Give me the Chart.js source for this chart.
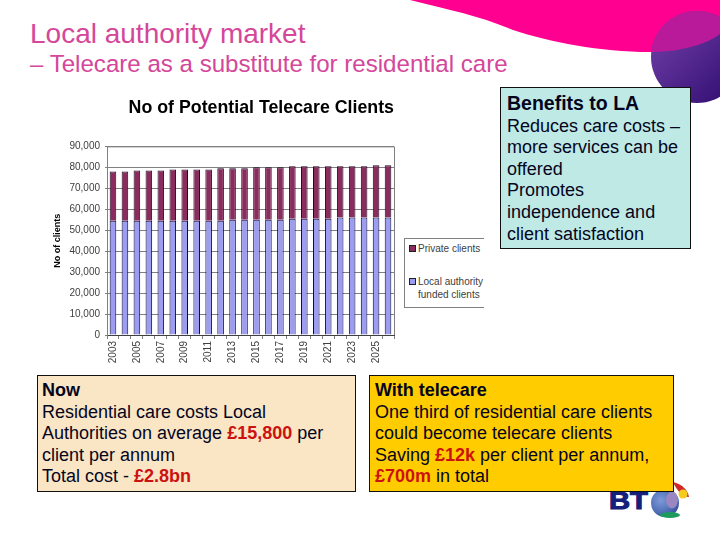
<!DOCTYPE html>
<html>
<head>
<meta charset="utf-8">
<script src="https://cdn.jsdelivr.net/npm/chart.js@4"></script>
<style>
    html, body { margin: 0; padding: 0; background: #fff; }
    body { position: relative; width: 720px; height: 540px; overflow: hidden; font-family: "Liberation Sans", Arial, sans-serif; }
    #decor { position: absolute; left: 0; top: 0; }
    h1, h2 { position: absolute; left: 30px; margin: 0; font-weight: normal; color: #d4479a; white-space: nowrap; }
    h1 { top: 18px; font-size: 28px; }
    h2 { top: 50px; font-size: 24.1px; }
    #chartBox { position: absolute; left: 48px; top: 95px; width: 436px; height: 275px; }
    #legend { position: absolute; left: 404px; top: 238px; width: 79px; height: 68px; border: 1px solid #808080; border-right: none; background: #fff; font-size: 10px; color: #404040; }
    #legend div { position: absolute; left: 13px; line-height: 13px; }
    #legend i { position: absolute; left: -9px; top: 3px; width: 5px; height: 5px; border: 1px solid #202020; }
    .box { position: absolute; box-sizing: border-box; border: 1px solid #101010; padding: 4px 4px; font-size: 18px; line-height: 21.6px; color: #05051e; white-space: nowrap; }
    #benefits { left: 500px; top: 87px; width: 191px; height: 162px; background: #bfe9e5; padding-top: 5px; padding-left: 6px; }
    #benefits b { font-size: 19.5px; }
    #now { left: 37px; top: 375px; width: 319px; height: 117px; background: #fae5c5; }
    #telecare { left: 369px; top: 375px; width: 305px; height: 117px; background: #ffcc00; padding-left: 5px; }
    .red { color: #cc1111; font-weight: bold; }
</style>
</head>
<body>
<svg id="decor" width="720" height="540">
    <defs>
        <linearGradient id="ballLow" x1="0" y1="0" x2="1" y2="1">
            <stop offset="0.1" stop-color="#6f3ea6"/>
            <stop offset="1" stop-color="#2c0a6e"/>
        </linearGradient>
        <radialGradient id="globe" cx="0.35" cy="0.4" r="0.8">
            <stop offset="0" stop-color="#7d9ad8"/>
            <stop offset="1" stop-color="#2a4a98"/>
        </radialGradient>
        <clipPath id="ballClip"><circle cx="697" cy="57" r="46"/></clipPath>
    </defs>
    <path d="M410,0 C450,10 480,16 513,30 C550,42 600,52 650,52 C680,52 705,45 720,34 L720,0 Z" fill="#ff0090"/>
    <circle cx="697" cy="57" r="46" fill="url(#ballLow)"/>
    <path d="M640,0 L720,0 L720,34 C705,45 680,52 650,52 L640,52 Z" fill="#b81a9a" clip-path="url(#ballClip)"/>
    <text x="609" y="509" font-family="Liberation Sans" font-weight="bold" font-size="23" fill="#14207a" stroke="#14207a" stroke-width="1" textLength="39" lengthAdjust="spacingAndGlyphs">BT</text>
    <path d="M673,482 C682,484 688,490 689,497 C683,497 677,491 673,482 Z" fill="#d02828"/>
    <circle cx="683" cy="494" r="4.5" fill="#f4cc20"/>
    <circle cx="665" cy="503" r="14" fill="url(#globe)"/>
    <ellipse cx="672" cy="500" rx="6" ry="8.5" fill="#9a86c0"/>
    <ellipse cx="670" cy="515" rx="10" ry="3" fill="#1f9a5e"/>
</svg>

<h1>Local authority market</h1>
<h2>– Telecare as a substitute for residential care</h2>

<div id="chartBox"><canvas id="clientsChart"></canvas></div>
<div id="legend"></div>

<div class="box" id="benefits"><b>Benefits to LA</b><br>Reduces care costs –<br>more services can be<br>offered<br>Promotes<br>independence and<br>client satisfaction</div>
<div class="box" id="now"><b>Now</b><br>Residential care costs Local<br>Authorities on average <span class="red">£15,800</span> per<br>client per annum<br>Total cost - <span class="red">£2.8bn</span></div>
<div class="box" id="telecare"><b>With telecare</b><br>One third of residential care clients<br>could become telecare clients<br>Saving <span class="red">£12k</span> per client per annum,<br><span class="red">£700m</span> in total</div>

<script>
const years = ['2003', '2004', '2005', '2006', '2007', '2008', '2009', '2010', '2011', '2012', '2013', '2014',
    '2015', '2016', '2017', '2018', '2019', '2020', '2021', '2022', '2023', '2024', '2025', '2026'];
const localAuthorityClients = [54500, 54500, 54500, 54500, 54500, 54500, 54500, 54500, 54500, 54500, 55000, 55000,
    55000, 55000, 55000, 55500, 55500, 55500, 55500, 56000, 56000, 56000, 56000, 56000];
const privateClients = [23500, 23500, 24000, 24000, 24000, 24500, 24500, 24500, 24500, 25000, 24500, 24500,
    25000, 25000, 25000, 25000, 25000, 25000, 25000, 24500, 24500, 24500, 25000, 25000];
const yTicks = [0, 10000, 20000, 30000, 40000, 50000, 60000, 70000, 80000, 90000];

const tickFont = { family: 'Liberation Sans', size: 10 };

new Chart(document.getElementById('clientsChart').getContext('2d'), {
    type: 'bar',
    data: {
        labels: years,
        datasets: [
            {
                label: 'Local authority funded clients',
                data: localAuthorityClients,
                backgroundColor: '#9c9cf0',
                borderColor: '#0a0a3c',
                borderWidth: 1,
                barPercentage: 0.55,
                categoryPercentage: 1
            },
            {
                label: 'Private clients',
                data: privateClients,
                backgroundColor: '#8a2d5e',
                borderColor: '#1a0a20',
                borderWidth: 1,
                barPercentage: 0.55,
                categoryPercentage: 1
            }
        ]
    },
    options: {
        responsive: true,
        maintainAspectRatio: false,
        animation: false,
        layout: { padding: { top: 2, right: 90, bottom: 0, left: 4 } },
        plugins: {
            legend: { display: false },
            tooltip: { enabled: false },
            title: {
                display: true,
                align: 'end',
                text: 'No of Potential Telecare Clients',
                color: '#000',
                font: { family: 'Liberation Sans', size: 17.8, weight: 'bold' },
                padding: { top: 0, bottom: 28 }
            }
        },
        scales: {
            x: {
                stacked: true,
                grid: { drawOnChartArea: false, drawTicks: true, tickLength: 4, color: '#808080' },
                border: { color: '#404040' },
                ticks: {
                    autoSkip: false,
                    minRotation: 90,
                    maxRotation: 90,
                    color: '#404040',
                    font: tickFont,
                    padding: 2,
                    callback: function(value, index) {
                        return index % 2 === 0 ? years[index] : '';
                    }
                },
                afterFit: function(scale) { scale.height = 35; }
            },
            y: {
                stacked: true,
                min: 0,
                max: 90000,
                grid: { color: '#808080', drawTicks: true, tickLength: 2 },
                border: { color: '#808080' },
                title: {
                    display: true,
                    text: 'No of clients',
                    color: '#000',
                    font: { family: 'Liberation Sans', size: 9, weight: 'bold' },
                    padding: 0
                },
                ticks: {
                    color: '#404040',
                    font: tickFont,
                    padding: 5,
                    callback: function(value) {
                        return yTicks.includes(value) ? value.toLocaleString('en-US') : '';
                    },
                    stepSize: 10000
                },
                afterFit: function(scale) { scale.width = 55; }
            }
        }
    },
    plugins: [{
        // 上と右の枠線
        id: 'plotFrame',
        afterDraw(chart) {
            const { ctx, chartArea } = chart;
            ctx.save();
            ctx.strokeStyle = '#808080';
            ctx.lineWidth = 1;
            ctx.beginPath();
            ctx.moveTo(chartArea.left, chartArea.top + 0.5);
            ctx.lineTo(chartArea.right + 0.5, chartArea.top + 0.5);
            ctx.lineTo(chartArea.right + 0.5, chartArea.bottom);
            ctx.stroke();
            ctx.restore();
        }
    }]
});

// 凡例
const legendEntries = [
    { name: 'Private clients', color: '#8a2d5e', top: 3 },
    { name: 'Local authority<br>funded clients', color: '#9c9cf0', top: 36 }
];
document.getElementById('legend').innerHTML = legendEntries.map(e =>
    `<div style="top:${e.top}px"><i style="background:${e.color}"></i>${e.name}</div>`).join('');
</script>
</body>
</html>
